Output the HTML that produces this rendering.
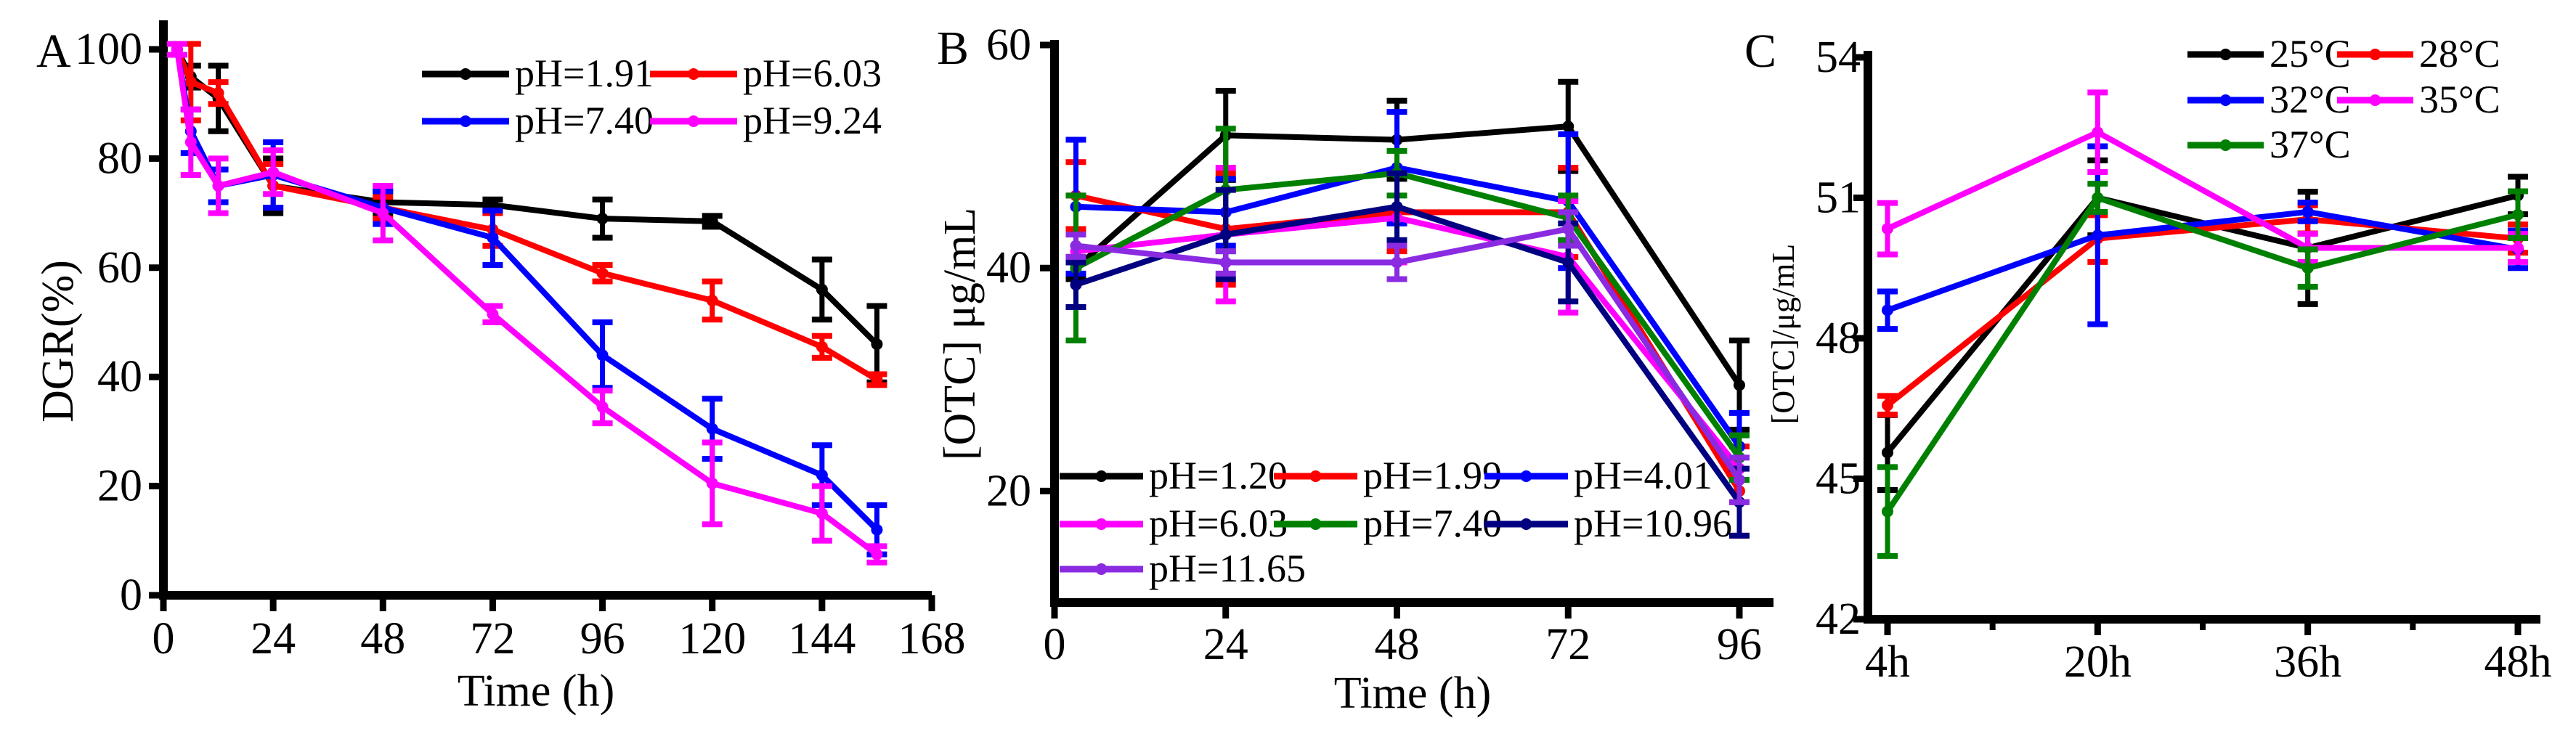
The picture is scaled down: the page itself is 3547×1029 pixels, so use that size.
<!DOCTYPE html>
<html><head><meta charset="utf-8"><style>
html,body{margin:0;padding:0;background:#fff;}
svg{display:block;font-family:"Liberation Serif",serif;}
</style></head><body>
<svg id="fig" width="3547" height="1029" viewBox="0 0 3547 1029" xmlns="http://www.w3.org/2000/svg"></svg>
<script>
// ---------- Panel A data ----------
const aTimes = [3,6,12,24,48,72,96,120,144,156];
const aLabels = ["pH=1.91","pH=6.03","pH=7.40","pH=9.24"];
const aColors = ["#000000","#ff0000","#0000ff","#ff00ff"];
const aS1 = [100,95,91,75,72,71.5,69,68.5,56,46];
const aS2 = [100,94,92,75,71,67,59,54,45.5,39.5];
const aS3 = [100,85,75,77,71,65.5,44,30.5,22,12];
const aS4 = [100,83,75,77.5,70,51.5,34.5,20.5,15,7.5];
const aE1 = [1,2,6,5,2,1,3.5,1,5.5,7];
const aE2 = [1,7,2,4,2,3,1.5,3.5,2,1];
const aE3 = [1,4,3,6,3,5,6,5.5,5.5,4.5];
const aE4 = [1,6,5,4,5,1.5,3,7.5,5,1.5];
const aYTicks = [0,20,40,60,80,100];
const aXTicks = [0,24,48,72,96,120,144,168];
// ---------- Panel B data ----------
const bTimes = [3,24,48,72,96];
const bLabels = ["pH=1.20","pH=1.99","pH=4.01","pH=6.03","pH=7.40","pH=10.96","pH=11.65"];
const bColors = ["#000000","#ff0000","#0000ff","#ff00ff","#008000","#000080","#8a2be2"];
const bS1 = [40,51.9,51.5,52.7,29.5];
const bS2 = [46.5,43.5,45,45,20];
const bS3 = [45.5,45,49,46,24];
const bS4 = [41.5,43,44.5,41,22];
const bS5 = [40,47,48.5,44.5,23];
const bS6 = [38.5,43,45.5,40.5,19];
const bS7 = [42,40.5,40.5,43.5,21];
const bE1 = [1,4,3.5,4,4];
const bE2 = [3,5,3.5,4,4];
const bE3 = [6,3,5,6,3];
const bE4 = [5,6,4,5,3];
const bE5 = [6.5,5.5,2,2,2];
const bE6 = [2,4,3,3.5,3];
const bE7 = [1,1,1.5,1.5,2];
const bYTicks = [20,40,60];
const bXTicks = [0,24,48,72,96];
// ---------- Panel C data ----------
const cCats = ["4h","20h","36h","48h"];
const cLabels = ["25°C","28°C","32°C","35°C","37°C"];
const cColors = ["#000000","#ff0000","#0000ff","#ff00ff","#008000"];
const cS1 = [45.56,51.0,49.93,51.05];
const cS2 = [46.57,50.13,50.54,50.13];
const cS3 = [48.6,50.2,50.7,49.9];
const cS4 = [50.34,52.4,49.93,49.93];
const cS5 = [44.3,51.0,49.5,50.64];
const cE1 = [0.8,0.8,1.2,0.4];
const cE2 = [0.2,0.5,0.3,0.3];
const cE3 = [0.4,1.9,0.2,0.4];
const cE4 = [0.55,0.85,0.3,0.3];
const cE5 = [0.95,0.3,0.4,0.5];
const cYTicks = [42,45,48,51,54];

const NS="http://www.w3.org/2000/svg";
const svg=document.getElementById('fig');
function mk(tag,attrs,parent){const e=document.createElementNS(NS,tag);for(const k in attrs)e.setAttribute(k,attrs[k]);(parent||svg).appendChild(e);return e;}
function txt(s,x,y,size,anchor,parent){const t=mk('text',{x:x,y:y,'font-size':size,'text-anchor':anchor||'middle',fill:'#000'},parent);t.textContent=s;return t;}
function lin(x0,x1,d0,d1){return v=>x0+(v-d0)/(d1-d0)*(x1-x0);}

function drawSeries(g,xs,ys,es,X,Y,color){
  const sg=mk('g',{},g);
  
  
  for(let i=0;i<ys.length;i++){
    const x=X(xs[i]);
    const eb=mk('g',{},sg);
    
    
    mk('line',{x1:x,x2:x,y1:Y(ys[i]-es[i]),y2:Y(ys[i]+es[i]),stroke:color,'stroke-width':7},eb);
    mk('line',{x1:x-14,x2:x+14,y1:Y(ys[i]+es[i]),y2:Y(ys[i]+es[i]),stroke:color,'stroke-width':8},eb);
    mk('line',{x1:x-14,x2:x+14,y1:Y(ys[i]-es[i]),y2:Y(ys[i]-es[i]),stroke:color,'stroke-width':8},eb);
  }
  const pts=ys.map((v,i)=>X(xs[i])+','+Y(v)).join(' ');
  const pl=mk('polyline',{points:pts,fill:'none',stroke:color,'stroke-width':8,'stroke-linejoin':'round'},sg);
  
  
  for(let i=0;i<ys.length;i++){
    const m=mk('circle',{cx:X(xs[i]),cy:Y(ys[i]),r:8,fill:color},sg);
    
    
  }
}
function legendEntry(g,x,y,label,color,len,size){
  const le=mk('g',{},g);
  
  
  mk('line',{x1:x,x2:x+len,y1:y,y2:y,stroke:color,'stroke-width':9},le);
  mk('circle',{cx:x+len/2,cy:y,r:8,fill:color},le);
  txt(label,x+len+8,y+17,size,'start',le);
}
function axes(g,x0,x1,y0,y1){
  mk('line',{x1:x0,x2:x0,y1:y1,y2:y0+5,stroke:'#000','stroke-width':12},g);
  mk('line',{x1:x0-6,x2:x1,y1:y0,y2:y0,stroke:'#000','stroke-width':12},g);
}

// ===== Panel A =====
(function(){
  const g=mk('g',{});
  
  
  const X=lin(225,1283,0,168), Y=lin(820,68,0,100);
  axes(g,225,1283,820,28);
  aYTicks.forEach(v=>{mk('line',{x1:205,x2:225,y1:Y(v),y2:Y(v),stroke:'#000','stroke-width':9},g);
    const t=txt(v,196,Y(v)+20,62,'end',g);});
  aXTicks.forEach(v=>{mk('line',{x1:X(v),x2:X(v),y1:820,y2:842,stroke:'#000','stroke-width':9},g);
    const t=txt(v,X(v),900,62,'middle',g);});
  const xt=txt('Time (h)',738,972,62,'middle',g);
  const yt=txt('DGR(%)',0,0,62,'middle',g);yt.setAttribute('transform','translate(100,470) rotate(-90)');
  
  const pl=txt('A',50,92,66,'start',g);
  const S=[aS1,aS2,aS3,aS4],E=[aE1,aE2,aE3,aE4];
  S.forEach((s,i)=>drawSeries(g,aTimes,s,E[i],X,Y,aColors[i]));
  const lg=mk('g',{},g);
  legendEntry(lg,581,102,aLabels[0],aColors[0],120,54);
  legendEntry(lg,895,102,aLabels[1],aColors[1],120,54);
  legendEntry(lg,581,167,aLabels[2],aColors[2],120,54);
  legendEntry(lg,895,167,aLabels[3],aColors[3],120,54);
})();

// ===== Panel B =====
(function(){
  const g=mk('g',{});
  
  
  const X=lin(1452,2395,0,96), Y=lin(830,62,10,60);
  axes(g,1452,2442,830,55);
  bYTicks.forEach(v=>{mk('line',{x1:1432,x2:1452,y1:Y(v),y2:Y(v),stroke:'#000','stroke-width':9},g);
    const t=txt(v,1420,Y(v)+20,62,'end',g);});
  bXTicks.forEach(v=>{mk('line',{x1:X(v),x2:X(v),y1:830,y2:852,stroke:'#000','stroke-width':9},g);
    const t=txt(v,X(v),908,62,'middle',g);});
  const xt=txt('Time (h)',1945,975,62,'middle',g);
  const yt=txt('[OTC] μg/mL',0,0,62,'middle',g);yt.setAttribute('transform','translate(1342,460) rotate(-90)');
  
  const pl=txt('B',1290,88,66,'start',g);
  const S=[bS1,bS2,bS3,bS4,bS5,bS6,bS7],E=[bE1,bE2,bE3,bE4,bE5,bE6,bE7];
  S.forEach((s,i)=>drawSeries(g,bTimes,s,E[i],X,Y,bColors[i]));
  const lg=mk('g',{},g);
  const cols=[1459,1754,2044],rows=[656,722,784];
  bLabels.forEach((l,i)=>legendEntry(lg,cols[i%3],rows[Math.floor(i/3)],l,bColors[i],115,54));
})();

// ===== Panel C =====
(function(){
  const g=mk('g',{});
  
  
  const idx=cCats.map((c,i)=>i);
  const X=lin(2599,3467,0,cCats.length-1), Y=lin(853,79,42,54);
  axes(g,2572,3498,853,70);
  cYTicks.forEach(v=>{mk('line',{x1:2552,x2:2572,y1:Y(v),y2:Y(v),stroke:'#000','stroke-width':9},g);
    const t=txt(v,2562,Y(v)+20,62,'end',g);});
  cCats.forEach((c,i)=>{mk('line',{x1:X(i),x2:X(i),y1:853,y2:875,stroke:'#000','stroke-width':9},g);
    if(i<cCats.length-1)mk('line',{x1:X(i+0.5),x2:X(i+0.5),y1:853,y2:868,stroke:'#000','stroke-width':8},g);
    const t=txt(c,X(i),932,62,'middle',g);});
  const yt=txt('[OTC]/μg/mL',0,0,44,'middle',g);yt.setAttribute('transform','translate(2470,460) rotate(-90)');
  
  const pl=txt('C',2402,92,66,'start',g);
  const S=[cS1,cS2,cS3,cS4,cS5],E=[cE1,cE2,cE3,cE4,cE5];
  S.forEach((s,i)=>drawSeries(g,idx,s,E[i],X,Y,cColors[i]));
  const lg=mk('g',{},g);
  const cols=[3012,3218],rows=[75,138,200];
  cLabels.forEach((l,i)=>legendEntry(lg,cols[i%2],rows[Math.floor(i/2)],l,cColors[i],105,54));
})();
</script>
</body></html>
